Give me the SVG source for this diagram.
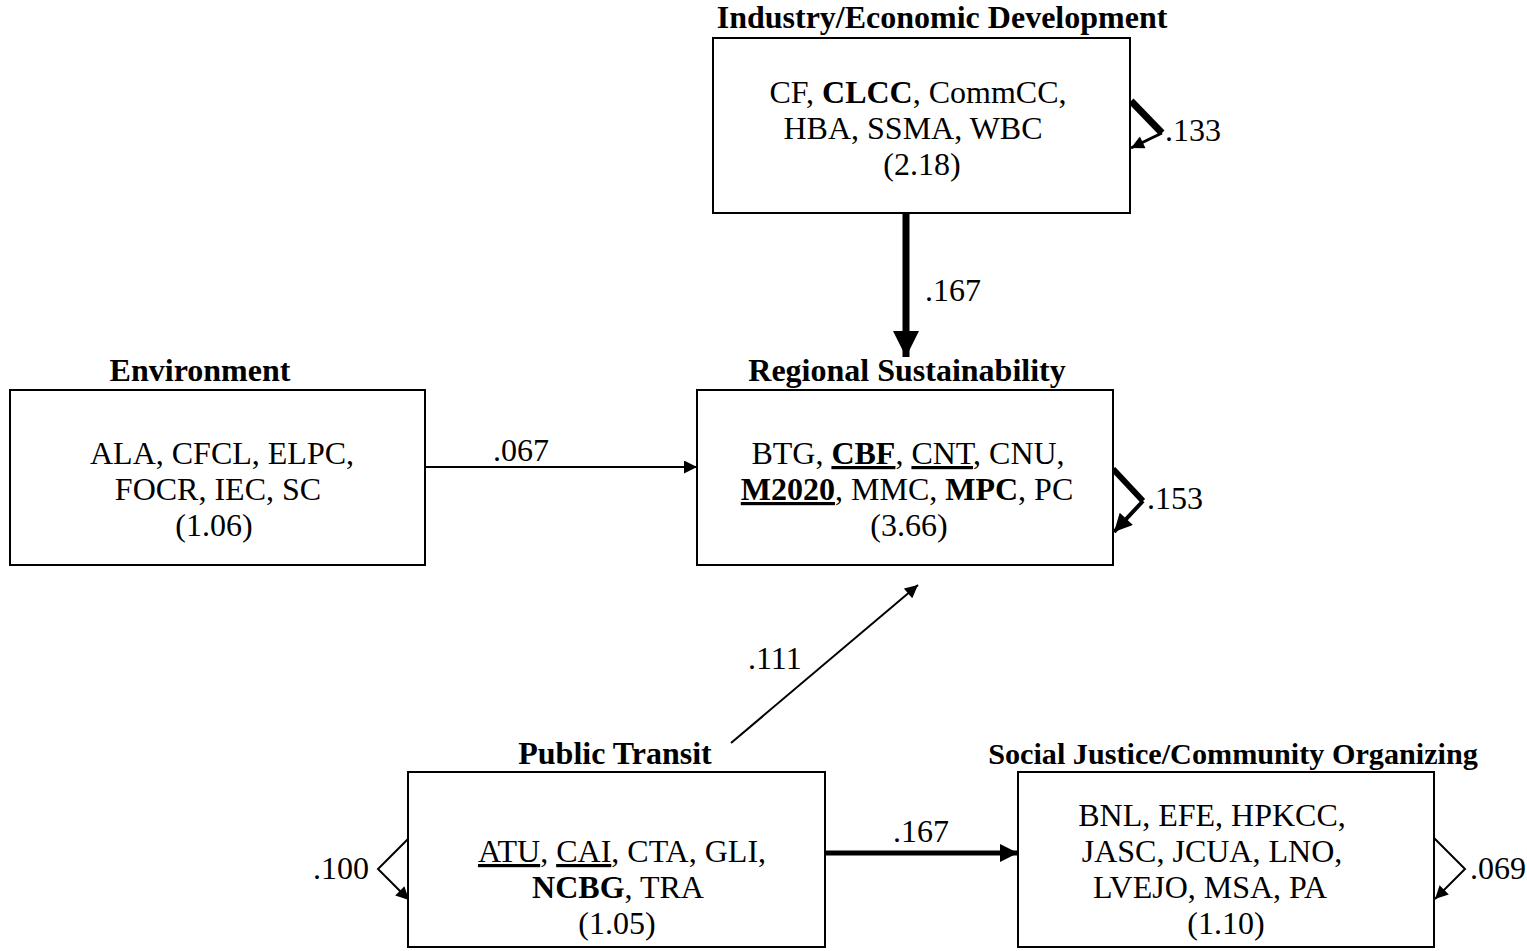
<svg xmlns="http://www.w3.org/2000/svg" width="1527" height="951" viewBox="0 0 1527 951">
<style>
text{font-family:"Liberation Serif","Times New Roman",serif;font-size:32px;fill:#000}
.t{font-weight:bold;text-anchor:middle}
.c{text-anchor:middle}
.b{font-weight:bold}
.u{text-decoration:underline}
rect{fill:#fff;stroke:#000;stroke-width:2}
.ln{fill:none;stroke:#000}
</style>
<defs>
<marker id="ah" viewBox="0 0 10 10" refX="10" refY="5" markerWidth="17" markerHeight="13" markerUnits="userSpaceOnUse" orient="auto"><path d="M0,0L10,5L0,10z" fill="#000"/></marker>
<marker id="ahb" viewBox="0 0 10 10" refX="10" refY="5" markerWidth="30" markerHeight="26" markerUnits="userSpaceOnUse" orient="auto"><path d="M0,0L10,5L0,10z" fill="#000"/></marker>
<marker id="ahs" viewBox="0 0 10 10" refX="10" refY="5" markerWidth="21" markerHeight="18" markerUnits="userSpaceOnUse" orient="auto"><path d="M0,0L10,5L0,10z" fill="#000"/></marker>
</defs>
<g id="connectors">
<line class="ln" x1="906" y1="213" x2="906" y2="357" stroke-width="7" marker-end="url(#ahb)"/>
<text x="925" y="301">.167</text>
<line class="ln" x1="426" y1="467" x2="697" y2="467" stroke-width="2" marker-end="url(#ah)"/>
<text x="493" y="461">.067</text>
<line class="ln" x1="731" y1="743" x2="918" y2="585" stroke-width="2" marker-end="url(#ah)"/>
<text x="748" y="669">.111</text>
<line class="ln" x1="826" y1="853" x2="1018" y2="853" stroke-width="5" marker-end="url(#ahs)"/>
<text x="893" y="842">.167</text>
<path class="ln" d="M1131,101L1162,133" stroke-width="7"/>
<path class="ln" d="M1162,133L1131,148" stroke-width="3" marker-end="url(#ah)"/>
<text x="1165" y="141">.133</text>
<path class="ln" d="M1113,469L1143,501" stroke-width="6"/>
<path class="ln" d="M1143,501L1114,532" stroke-width="4" marker-end="url(#ahs)"/>
<text x="1147" y="509">.153</text>
<path class="ln" d="M409,838L378,869L409,900" stroke-width="2" marker-end="url(#ah)"/>
<text x="313" y="879">.100</text>
<path class="ln" d="M1434,838L1465,869L1435,899" stroke-width="2" marker-end="url(#ah)"/>
<text x="1470" y="879">.069</text>
</g>
<g id="industry">
<rect x="713" y="38" width="417" height="175"/>
<text class="t" x="942" y="28">Industry/Economic Development</text>
<text class="c" x="918" y="103">CF, <tspan class="b">CLCC</tspan>, CommCC,</text>
<text class="c" x="913" y="139">HBA, SSMA, WBC</text>
<text class="c" x="922" y="175">(2.18)</text>
</g>
<g id="environment">
<rect x="10" y="390" width="415" height="175"/>
<text class="t" x="200" y="381">Environment</text>
<text class="c" x="222" y="464">ALA, CFCL, ELPC,</text>
<text class="c" x="218" y="500">FOCR, IEC, SC</text>
<text class="c" x="214" y="536">(1.06)</text>
</g>
<g id="regional">
<rect x="697" y="390" width="416" height="175"/>
<text class="t" x="907" y="381">Regional Sustainability</text>
<text class="c" x="908" y="464">BTG, <tspan class="b u">CBF</tspan>, <tspan class="u">CNT</tspan>, CNU,</text>
<text class="c" x="907" y="500"><tspan class="b u">M2020</tspan>, MMC, <tspan class="b">MPC</tspan>, PC</text>
<text class="c" x="909" y="536">(3.66)</text>
</g>
<g id="transit">
<rect x="408" y="772" width="417" height="175"/>
<text class="t" x="615" y="764">Public Transit</text>
<text class="c" x="622" y="862"><tspan class="u">ATU</tspan>, <tspan class="u">CAI</tspan>, CTA, GLI,</text>
<text class="c" x="618" y="898"><tspan class="b">NCBG</tspan>, TRA</text>
<text class="c" x="617" y="934">(1.05)</text>
</g>
<g id="socialjustice">
<rect x="1018" y="772" width="416" height="175"/>
<text class="t" x="1233" y="764" style="font-size:30.2px">Social Justice/Community Organizing</text>
<text class="c" x="1212" y="826">BNL, EFE, HPKCC,</text>
<text class="c" x="1212" y="862">JASC, JCUA, LNO,</text>
<text class="c" x="1210" y="898">LVEJO, MSA, PA</text>
<text class="c" x="1226" y="934">(1.10)</text>
</g>
</svg>
